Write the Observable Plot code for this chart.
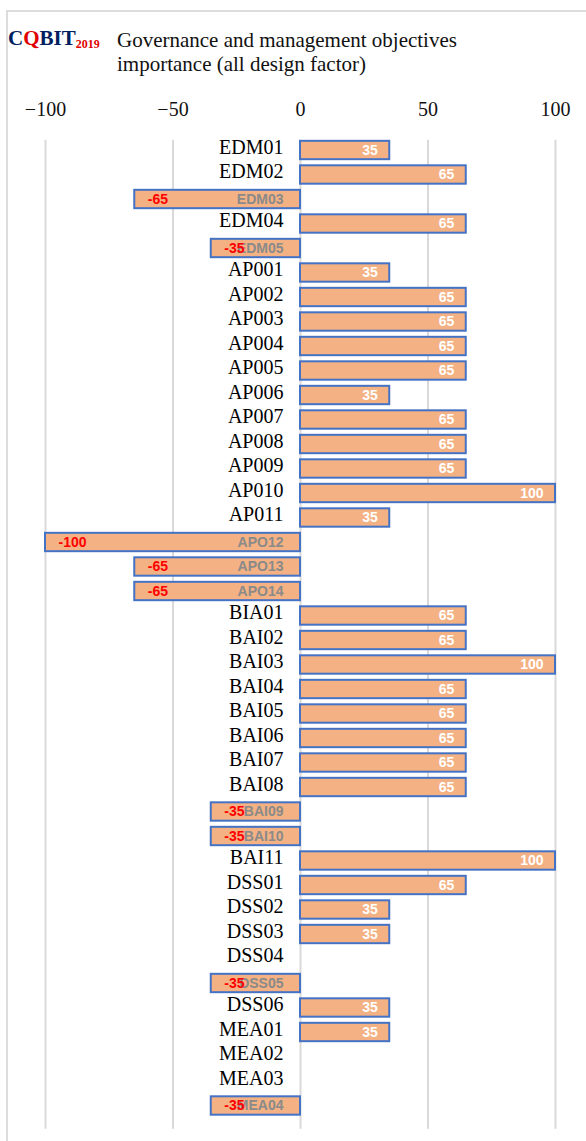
<!DOCTYPE html>
<html>
<head>
<meta charset="utf-8">
<script src="https://cdn.jsdelivr.net/npm/d3@7"></script>
<script src="https://cdn.jsdelivr.net/npm/@observablehq/plot@0.6"></script>
<style>
  html, body { margin: 0; padding: 0; background: #fff; }
  #wrap { position: relative; width: 586px; height: 1141px; overflow: hidden; background: #fff; }
  #frame { position: absolute; left: 6px; top: 10px; right: -10px; bottom: -10px; border-left: 2px solid #dcdcdc; border-top: 2px solid #dcdcdc; }
  #logo { position: absolute; left: 8px; top: 26px; font-family: "Liberation Serif", serif; font-weight: bold; font-size: 21px; color: #002060; white-space: nowrap; }
  #logo .r { color: #e00000; }
  #logo sub { font-size: 12px; color: #e00000; vertical-align: -3px; }
  #title { position: absolute; left: 117px; top: 28px; font-family: "Liberation Serif", serif; font-size: 21px; line-height: 24px; color: #111; white-space: nowrap; }
  #chart { position: absolute; left: 0; top: 80px; line-height: 0; }
  #chart svg { display: block; }
</style>
</head>
<body>
<div id="wrap">
  <div id="frame"></div>
  <div id="logo">C<span class="r">Q</span>BIT<sub>2019</sub></div>
  <div id="title">Governance and management objectives<br>importance (all design factor)</div>
  <div id="chart"></div>
</div>
<script>
const names = ["EDM01","EDM02","EDM03","EDM04","EDM05",
  "AP001","AP002","AP003","AP004","AP005","AP006","AP007","AP008","AP009","AP010","AP011","APO12","APO13","APO14",
  "BIA01","BAI02","BAI03","BAI04","BAI05","BAI06","BAI07","BAI08","BAI09","BAI10","BAI11",
  "DSS01","DSS02","DSS03","DSS04","DSS05","DSS06",
  "MEA01","MEA02","MEA03","MEA04"];
const values = [35,65,-65,65,-35,
  35,65,65,65,65,35,65,65,65,100,35,-100,-65,-65,
  65,65,100,65,65,65,65,65,-35,-35,100,
  65,35,35,0,-35,35,
  35,0,0,-35];
const ticks = [-100,-50,0,50,100];

const data = names.map((name, i) => ({name, value: values[i]}));
const pos = data.filter(d => d.value > 0);
const neg = data.filter(d => d.value < 0);
const nonNeg = data.filter(d => d.value >= 0);
const bars = data.filter(d => d.value !== 0);

const serif = "'Liberation Serif', 'Times New Roman', serif";
const sans = "'Liberation Sans', Arial, sans-serif";

const chart = Plot.plot({
  width: 586,
  height: 1061,
  marginLeft: 45,
  marginRight: 31,
  marginTop: 57.75,
  marginBottom: 23.25,
  style: {fontFamily: serif, fontSize: "20px", background: "transparent"},
  x: {domain: [-100, 100]},
  y: {domain: names, paddingInner: 0.25, paddingOuter: 0.125, round: false, axis: null},
  marks: [
    Plot.ruleX(ticks, {x: d => d, stroke: "#d9d9d9", strokeWidth: 2, insetTop: 2, insetBottom: -11}),
    Plot.axisX({anchor: "top", ticks, tickSize: 0, tickPadding: 22, label: null, fontSize: 20, fontFamily: serif, fill: "#111"}),
    Plot.barX(bars, {x: "value", y: "name", fill: "#F4B183", stroke: "#4472C4", strokeWidth: 2}),
    Plot.text(nonNeg, {x: 0, y: "name", text: "name", textAnchor: "end", dx: -17, dy: -3, fontFamily: serif, fontSize: 20, fill: "#000"}),
    Plot.text(neg, {x: 0, y: "name", text: "name", textAnchor: "end", dx: -17, fontFamily: sans, fontSize: 14, fontWeight: "bold", fill: "#8a8a8a"}),
    Plot.text(pos, {x: "value", y: "name", text: d => String(d.value), textAnchor: "end", dx: -12, fontFamily: sans, fontSize: 14, fontWeight: "bold", fill: "#fff"}),
    Plot.text(neg, {x: "value", y: "name", text: d => String(d.value), textAnchor: "start", dx: 13, fontFamily: sans, fontSize: 14, fontWeight: "bold", fill: "#ff0000"})
  ]
});
document.getElementById("chart").appendChild(chart);
</script>
</body>
</html>
